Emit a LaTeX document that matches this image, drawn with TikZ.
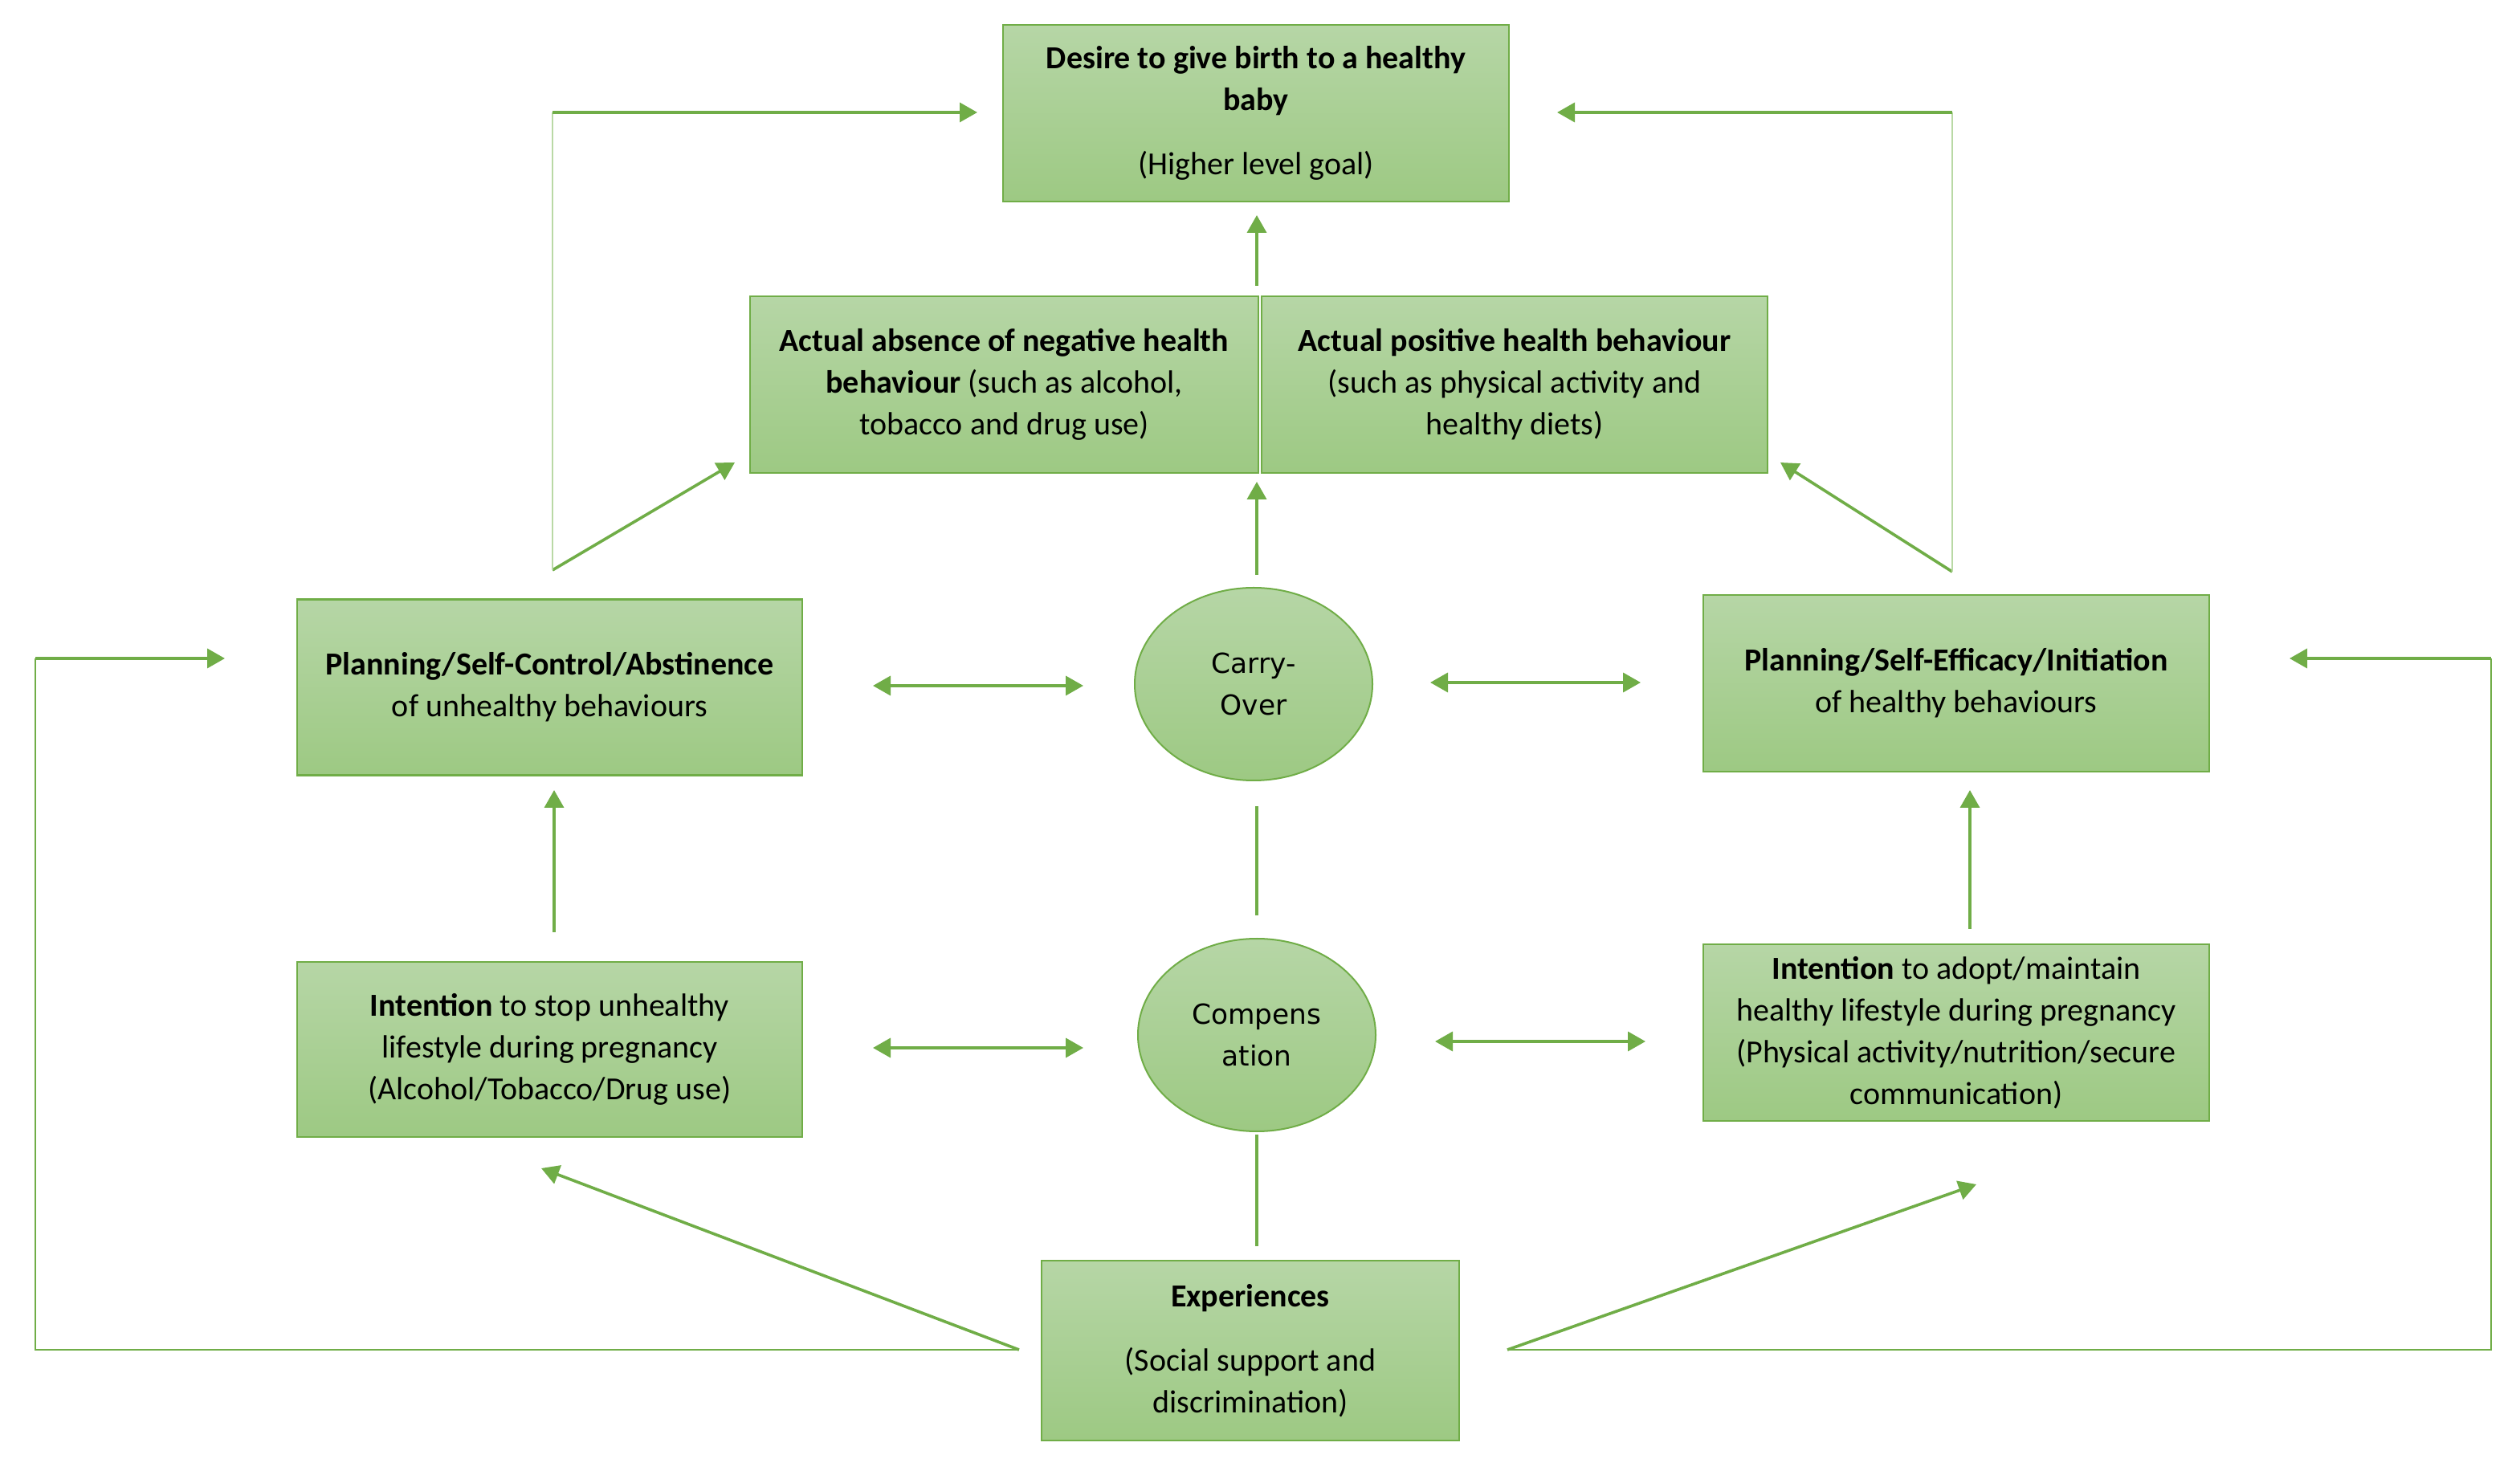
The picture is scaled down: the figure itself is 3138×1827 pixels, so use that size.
\documentclass[tikz,border=0pt]{standalone}
\usepackage{fontspec}
\setmainfont{Carlito}
\newfontfamily\ovalfont{DejaVu Sans}
\usetikzlibrary{arrows.meta,shapes.geometric}
\definecolor{gstroke}{HTML}{70AD47}
\definecolor{glight}{HTML}{B9D9A5}
\definecolor{gtop}{HTML}{B6D6A6}
\definecolor{gbot}{HTML}{9DC983}
\tikzset{
  box/.style={draw=gstroke, line width=0.7pt, top color=gtop, bottom color=gbot,
    align=center, inner sep=0pt, text=black, font=\fontsize{10}{13}\selectfont},
  oval/.style={ellipse, draw=gstroke, line width=0.5pt, top color=gtop, bottom color=gbot,
    align=center, inner sep=0pt, minimum width=74pt, minimum height=60pt, text=black,
    font=\ovalfont\fontsize{8.6}{13}\selectfont},
  conn/.style={draw=gstroke, line width=0.9pt},
  thinconn/.style={draw=gstroke, line width=0.55pt},
  lightconn/.style={draw=glight, line width=0.6pt},
  tip/.style={-{Triangle[length=5.5pt,width=6pt]}},
  tips/.style={{Triangle[length=5.5pt,width=6pt]}-{Triangle[length=5.5pt,width=6pt]}}
}
\begin{document}
\begin{tikzpicture}[x=0.25pt,y=-0.25pt]
\useasboundingbox (0,0) rectangle (3138,1827);
\fill[white] (0,0) rectangle (3138,1827);

% boxes
\node[box, minimum width=157.5pt, minimum height=55pt] (goal) at (1564,141)
  {\textbf{Desire to give birth to a healthy}\\\textbf{baby}\\[7pt](Higher level goal)};
\node[box, minimum width=158.25pt, minimum height=55pt] (absence) at (1250.5,479)
  {\textbf{Actual absence of negative health}\\\textbf{behaviour} (such as alcohol,\\tobacco and drug use)};
\node[box, minimum width=157.5pt, minimum height=55pt] (positive) at (1886,479)
  {\textbf{Actual positive health behaviour}\\(such as physical activity and\\healthy diets)};
\node[box, minimum width=157.25pt, minimum height=54.75pt] (planL) at (684.5,856)
  {\textbf{Planning/Self-Control/Abstinence}\\of unhealthy behaviours};
\node[box, minimum width=157.5pt, minimum height=55pt] (planR) at (2436,851)
  {\textbf{Planning/Self-Efficacy/Initiation}\\of healthy behaviours};
\node[box, minimum width=157.25pt, minimum height=54.5pt] (intL) at (684.5,1307)
  {\textbf{Intention} to stop unhealthy\\lifestyle during pregnancy\\(Alcohol/Tobacco/Drug use)};
\node[box, minimum width=157.5pt, minimum height=55pt] (intR) at (2436,1286)
  {\textbf{Intention} to adopt/maintain\\healthy lifestyle during pregnancy\\(Physical activity/nutrition/secure\\communication)};
\node[box, minimum width=130pt, minimum height=56pt] (exp) at (1557,1682)
  {\textbf{Experiences}\\[7pt](Social support and\\discrimination)};
\node[oval] (carry) at (1561,852) {Carry-\\Over};
\node[oval] (comp) at (1565,1289) {Compens\\ation};

% connector end points
\coordinate (gA) at (1565,356);  \coordinate (gB) at (1565,268);
\coordinate (cA) at (1565,716);  \coordinate (cB) at (1565,600);
\coordinate (mA) at (1565,1004); \coordinate (mB) at (1565,1140);
\coordinate (eA) at (1565,1413); \coordinate (eB) at (1565,1552);
\coordinate (d1a) at (1087,854); \coordinate (d1b) at (1349,854);
\coordinate (d2a) at (1781,850); \coordinate (d2b) at (2043,850);
\coordinate (d3a) at (1087,1305); \coordinate (d3b) at (1349,1305);
\coordinate (d4a) at (1787,1297); \coordinate (d4b) at (2049,1297);
\coordinate (uLa) at (690,1161); \coordinate (uLb) at (690,984);
\coordinate (uRa) at (2453,1157); \coordinate (uRb) at (2453,984);
\coordinate (xL) at (1269,1681); \coordinate (xLt) at (674,1455);
\coordinate (xR) at (1877,1681); \coordinate (xRt) at (2461,1475);
\coordinate (oL1) at (44,1681); \coordinate (oL2) at (44,820); \coordinate (oL3) at (280,820);
\coordinate (oR1) at (3102,1681); \coordinate (oR2) at (3102,820); \coordinate (oR3) at (2851,820);
\coordinate (tL) at (688,710); \coordinate (tLd) at (915,576);
\coordinate (tL1) at (688,140); \coordinate (tL2) at (1217,140);
\coordinate (tR) at (2431,712); \coordinate (tRd) at (2217,576);
\coordinate (tR1) at (2431,140); \coordinate (tR2) at (1939,140);

% connectors
\draw[conn,tip] (gA) -- (gB);
\draw[conn,tip] (cA) -- (cB);
\draw[conn] (mA) -- (mB);
\draw[conn] (eA) -- (eB);
\draw[conn,tips] (d1a) -- (d1b);
\draw[conn,tips] (d2a) -- (d2b);
\draw[conn,tips] (d3a) -- (d3b);
\draw[conn,tips] (d4a) -- (d4b);
\draw[conn,tip] (uLa) -- (uLb);
\draw[conn,tip] (uRa) -- (uRb);
\draw[conn,tip] (xL) -- (xLt);
\draw[conn,tip] (xR) -- (xRt);
\draw[thinconn] (xL) -- (oL1) -- (oL2);
\draw[conn,tip] (oL2) -- (oL3);
\draw[thinconn] (xR) -- (oR1) -- (oR2);
\draw[conn,tip] (oR2) -- (oR3);
\draw[conn,tip] (tL) -- (tLd);
\draw[lightconn] (tL) -- (tL1);
\draw[conn,tip] (tL1) -- (tL2);
\draw[conn,tip] (tR) -- (tRd);
\draw[lightconn] (tR) -- (tR1);
\draw[conn,tip] (tR1) -- (tR2);
\end{tikzpicture}
\end{document}
